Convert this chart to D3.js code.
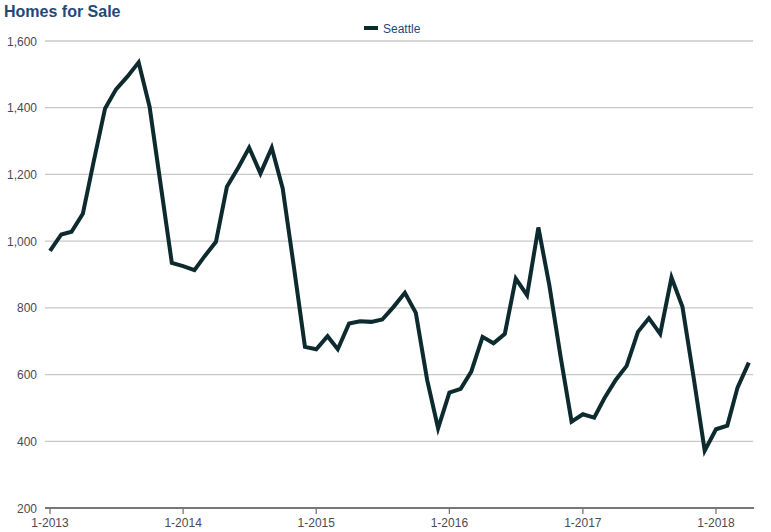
<!DOCTYPE html>
<html><head><meta charset="utf-8">
<script src="https://cdn.jsdelivr.net/npm/d3@7"></script>
<style>body{margin:0;background:#fff;}svg{display:block;font-family:"Liberation Sans",Arial,sans-serif;}</style>
</head><body>
<svg id="c" width="771" height="532"></svg>
<script>
const title = "Homes for Sale";
const seriesName = "Seattle";
// monthly, starting 1-2013
const months = d3.range(64).map(i => new Date(2013, i, 1));
const values = [
  971,1020,1028,1082,1240,1398,1455,1493,1536,1403,1165,935,
  925,913,955,998,1163,1220,1280,1203,1280,1158,920,683,
  676,715,676,753,760,758,765,803,845,785,584,439,
  546,557,609,713,694,722,888,838,1041,868,653,459,
  481,471,529,584,626,728,769,722,891,803,589,372,
  436,447,561,636
];
const yTicks = [200,400,600,800,1000,1200,1400,1600];
const xTickDates = [2013,2014,2015,2016,2017,2018].map(y => new Date(y,0,1));

const svg = d3.select("#c");
const x = d3.scaleTime().domain([new Date(2013,0,1), new Date(2018,0,1)]).range([50, 716]);
const y = d3.scaleLinear().domain([200,1600]).range([508, 41]);
const gx0 = 45, gx1 = 753;

// title
svg.append("text").attr("x",4).attr("y",17).text(title)
  .attr("font-size",16).attr("font-weight","bold").attr("fill","#1f4a78");

// legend
svg.append("line").attr("x1",364).attr("x2",378).attr("y1",28).attr("y2",28)
  .attr("stroke","#0d2a2e").attr("stroke-width",4);
svg.append("text").attr("x",383).attr("y",32.5).text(seriesName)
  .attr("font-size",12).attr("fill","#1f4a78");

// gridlines
svg.append("g").selectAll("line").data(yTicks.filter(d=>d>200)).join("line")
  .attr("x1",gx0).attr("x2",gx1).attr("y1",d=>y(d)).attr("y2",d=>y(d))
  .attr("stroke","#c8c8c8").attr("stroke-width",1.3);

// y labels
svg.append("g").selectAll("text").data(yTicks).join("text")
  .attr("x",37).attr("y",d=>y(d)+4.5).attr("text-anchor","end")
  .attr("font-size",12).attr("fill","#4a4a55").text(d3.format(","));

// x axis
svg.append("line").attr("x1",gx0).attr("x2",gx1+1).attr("y1",508).attr("y2",508)
  .attr("stroke","#777").attr("stroke-width",2);
svg.append("g").selectAll("line").data(xTickDates).join("line")
  .attr("x1",d=>x(d)).attr("x2",d=>x(d)).attr("y1",508).attr("y2",514)
  .attr("stroke","#777").attr("stroke-width",1.3);
svg.append("g").selectAll("text").data(xTickDates).join("text")
  .attr("x",d=>x(d)).attr("y",527).attr("text-anchor","middle")
  .attr("font-size",12).attr("fill","#4a4a55")
  .text(d => "1-" + d.getFullYear());

// line
const line = d3.line().x((d,i)=>x(months[i])).y(d=>y(d));
svg.append("path").datum(values).attr("d",line)
  .attr("fill","none").attr("stroke","#0d2a2e").attr("stroke-width",4)
  .attr("stroke-linejoin","miter").attr("stroke-linecap","butt");
</script>
</body></html>
